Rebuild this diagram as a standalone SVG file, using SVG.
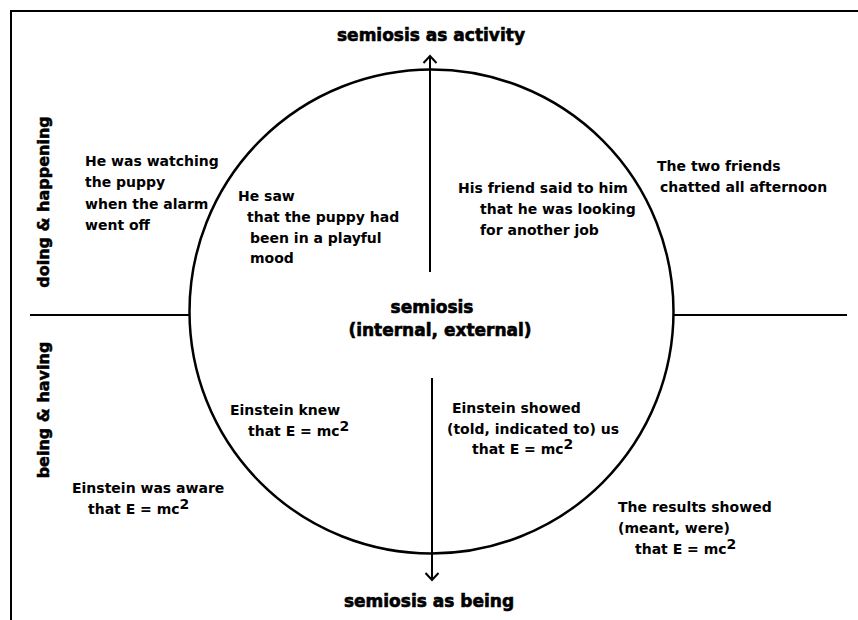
<svg xmlns="http://www.w3.org/2000/svg" width="858" height="620" viewBox="0 0 858 620">
<defs>
<style>
.body{font-family:"DejaVu Sans","Liberation Sans",sans-serif;font-weight:bold;font-size:14px;fill:#000}
.head{font-family:"DejaVu Sans","Liberation Sans",sans-serif;font-weight:bold;font-size:17px;fill:#000;stroke:#000;stroke-width:0.6}
.side{font-family:"DejaVu Sans","Liberation Sans",sans-serif;font-weight:bold;font-size:16px;fill:#000;stroke:#000;stroke-width:0.5}
.ln{stroke:#000;stroke-width:2;fill:none}
</style>
<marker id="arr" viewBox="-10 -10 20 20" markerWidth="20" markerHeight="20" refX="0" refY="0" orient="auto" markerUnits="userSpaceOnUse">
<path d="M -7 -6.5 L 0 0 L -7 6.5" fill="none" stroke="#000" stroke-width="2"/>
</marker>
</defs>
<rect width="858" height="620" fill="#fff"/>
<g id="frame">
<path class="ln" d="M 11 620 L 11 11 L 858 11"/>
</g>
<g id="circle">
<circle cx="431.5" cy="311.5" r="242" fill="none" stroke="#000" stroke-width="2.5"/>
</g>
<g id="connectors">
<line class="ln" x1="430" y1="272" x2="430" y2="56" marker-end="url(#arr)"/>
<line class="ln" x1="432" y1="378" x2="432" y2="580" marker-end="url(#arr)"/>
<line class="ln" x1="30" y1="315" x2="190" y2="315"/>
<line class="ln" x1="673" y1="315" x2="847" y2="315"/>
</g>
<g id="title-activity"><text class="head" x="431" y="41" text-anchor="middle">semiosis as activity</text></g>
<g id="title-being"><text class="head" x="429" y="607" text-anchor="middle">semiosis as being</text></g>
<g id="label-doing"><text class="side" transform="translate(49,202) rotate(-90)" text-anchor="middle">doing &amp; happening</text></g>
<g id="label-being"><text class="side" transform="translate(49,410) rotate(-90)" text-anchor="middle">being &amp; having</text></g>
<g id="center"><text class="head" text-anchor="middle"><tspan x="432" y="313">semiosis</tspan><tspan x="440" y="336">(internal, external)</tspan></text></g>
<g id="watching"><text class="body"><tspan x="85" y="166">He was watching</tspan><tspan x="85" y="187">the puppy</tspan><tspan x="85" y="209">when the alarm</tspan><tspan x="85" y="230">went off</tspan></text></g>
<g id="saw"><text class="body"><tspan x="238" y="201">He saw</tspan><tspan x="247" y="222">that the puppy had</tspan><tspan x="250" y="243">been in a playful</tspan><tspan x="250" y="263">mood</tspan></text></g>
<g id="friend"><text class="body"><tspan x="458" y="193">His friend said to him</tspan><tspan x="480" y="214">that he was looking</tspan><tspan x="480" y="235">for another job</tspan></text></g>
<g id="chatted"><text class="body"><tspan x="657" y="171">The two friends</tspan><tspan x="660" y="192">chatted all afternoon</tspan></text></g>
<g id="knew"><text class="body"><tspan x="230" y="415">Einstein knew</tspan><tspan x="248" y="436">that E = mc<tspan dy="-5">2</tspan></tspan></text></g>
<g id="showed"><text class="body"><tspan x="452" y="413">Einstein showed</tspan><tspan x="447" y="434">(told, indicated to) us</tspan><tspan x="472" y="454">that E = mc<tspan dy="-5">2</tspan></tspan></text></g>
<g id="aware"><text class="body"><tspan x="72" y="493">Einstein was aware</tspan><tspan x="88" y="514">that E = mc<tspan dy="-5">2</tspan></tspan></text></g>
<g id="results"><text class="body"><tspan x="618" y="512">The results showed</tspan><tspan x="618" y="533">(meant, were)</tspan><tspan x="635" y="554">that E = mc<tspan dy="-5">2</tspan></tspan></text></g>
</svg>
